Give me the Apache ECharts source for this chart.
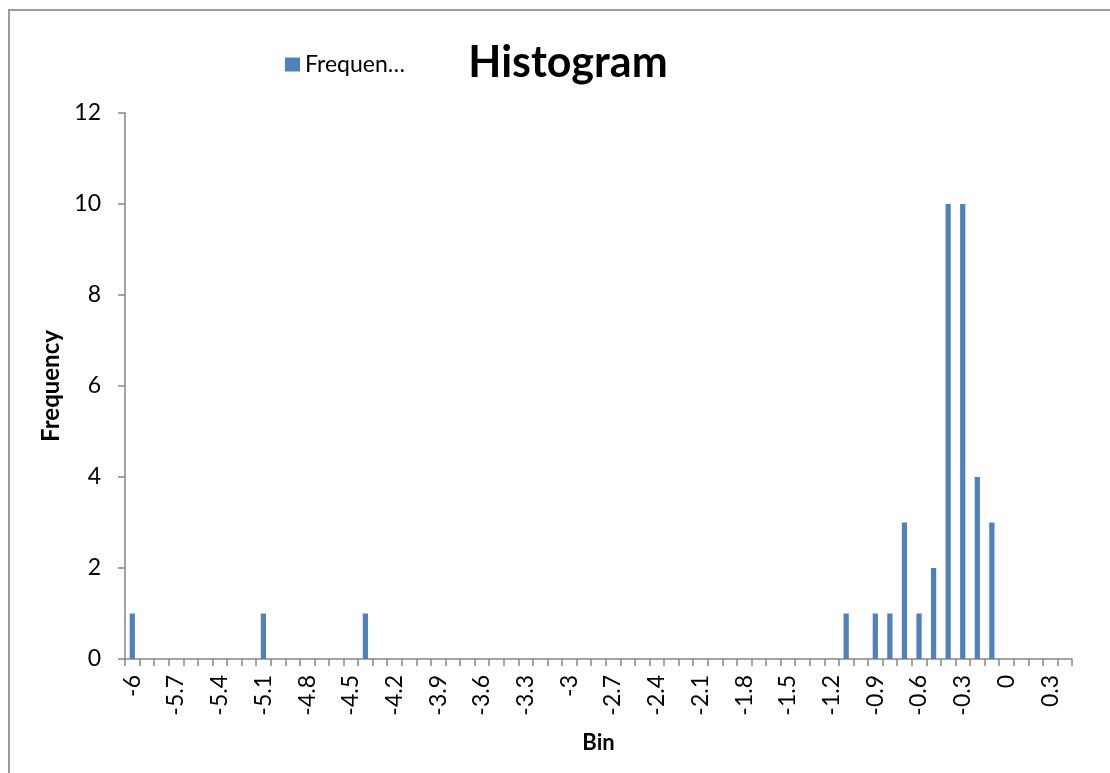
<!DOCTYPE html>
<html>
<head>
<meta charset="utf-8">
<title>Histogram</title>
<script src="https://cdn.jsdelivr.net/npm/echarts@6/dist/echarts.min.js"></script>
<style>
  html, body { margin: 0; padding: 0; background: #ffffff; }
  #chart { width: 1110px; height: 773px; }
</style>
</head>
<body>
<div id="chart"></div>
<script>
// Bin labels (upper edge of each bin)
const bins = [
  '-6', '-5.9', '-5.8', '-5.7', '-5.6', '-5.5', '-5.4', '-5.3', '-5.2', '-5.1',
  '-5', '-4.9', '-4.8', '-4.7', '-4.6', '-4.5', '-4.4', '-4.3', '-4.2', '-4.1',
  '-4', '-3.9', '-3.8', '-3.7', '-3.6', '-3.5', '-3.4', '-3.3', '-3.2', '-3.1',
  '-3', '-2.9', '-2.8', '-2.7', '-2.6', '-2.5', '-2.4', '-2.3', '-2.2', '-2.1',
  '-2', '-1.9', '-1.8', '-1.7', '-1.6', '-1.5', '-1.4', '-1.3', '-1.2', '-1.1',
  '-1', '-0.9', '-0.8', '-0.7', '-0.6', '-0.5', '-0.4', '-0.3', '-0.2', '-0.1',
  '0', '0.1', '0.2', '0.3', '0.4'
];

// Count of observations falling in each bin
const frequency = [
  1, 0, 0, 0, 0, 0, 0, 0, 0, 1,
  0, 0, 0, 0, 0, 0, 1, 0, 0, 0,
  0, 0, 0, 0, 0, 0, 0, 0, 0, 0,
  0, 0, 0, 0, 0, 0, 0, 0, 0, 0,
  0, 0, 0, 0, 0, 0, 0, 0, 0, 1,
  0, 1, 1, 3, 1, 2, 10, 10, 4, 3,
  0, 0, 0, 0, 0
];

const seriesName = 'Frequency';
const yTicks = { min: 0, max: 12, interval: 2 };

const font = "Lato, 'Open Sans', 'Liberation Sans', sans-serif";
const axisGray = '#868686';

const chart = echarts.init(document.getElementById('chart'), null, { renderer: 'canvas' });

chart.setOption({
  animation: false,
  backgroundColor: '#ffffff',
  textStyle: { fontFamily: font },
  graphic: [{
    type: 'rect',
    shape: { x: 9, y: 10, width: 1200, height: 900 },
    style: { fill: 'none', stroke: '#9a9a9a', lineWidth: 2 },
    silent: true,
    z: -1
  }],
  title: {
    text: 'Histogram',
    left: 563,
    textAlign: 'center',
    top: 37,
    textStyle: { fontFamily: font, fontSize: 43, fontWeight: 'bold', color: '#000000' }
  },
  legend: {
    left: 280,
    top: 48,
    icon: 'rect',
    itemWidth: 15,
    itemHeight: 14,
    itemGap: 10,
    formatter: name => name.slice(0, 7) + '…',
    textStyle: { fontFamily: font, fontSize: 23, color: '#000000' },
    data: [seriesName]
  },
  grid: {
    left: 125,
    right: 38,
    top: 113,
    bottom: 114,
    containLabel: false
  },
  xAxis: {
    type: 'category',
    data: bins,
    boundaryGap: true,
    name: 'Bin',
    nameLocation: 'middle',
    nameGap: 73,
    nameTextStyle: { fontFamily: font, fontSize: 22, fontWeight: 'bold', color: '#000000' },
    axisLine: { lineStyle: { color: axisGray, width: 1.5 } },
    axisTick: { show: true, interval: 0, length: 7, lineStyle: { color: axisGray, width: 1.5 } },
    axisLabel: {
      interval: 2,
      rotate: 90,
      margin: 16,
      fontFamily: font,
      fontSize: 23,
      color: '#000000'
    },
    splitLine: { show: false }
  },
  yAxis: {
    type: 'value',
    min: yTicks.min,
    max: yTicks.max,
    interval: yTicks.interval,
    name: 'Frequency',
    nameLocation: 'middle',
    nameGap: 58,
    nameTextStyle: { fontFamily: font, fontSize: 24, fontWeight: 'bold', color: '#000000' },
    axisLine: { show: true, lineStyle: { color: axisGray, width: 1.5 } },
    axisTick: { show: true, length: 7, lineStyle: { color: axisGray, width: 1.5 } },
    axisLabel: { margin: 24, fontFamily: font, fontSize: 23, color: '#000000' },
    splitLine: { show: false }
  },
  series: [{
    name: seriesName,
    type: 'bar',
    data: frequency,
    barWidth: '36%',
    itemStyle: { color: '#4F81BD' }
  }]
});
</script>
</body>
</html>
